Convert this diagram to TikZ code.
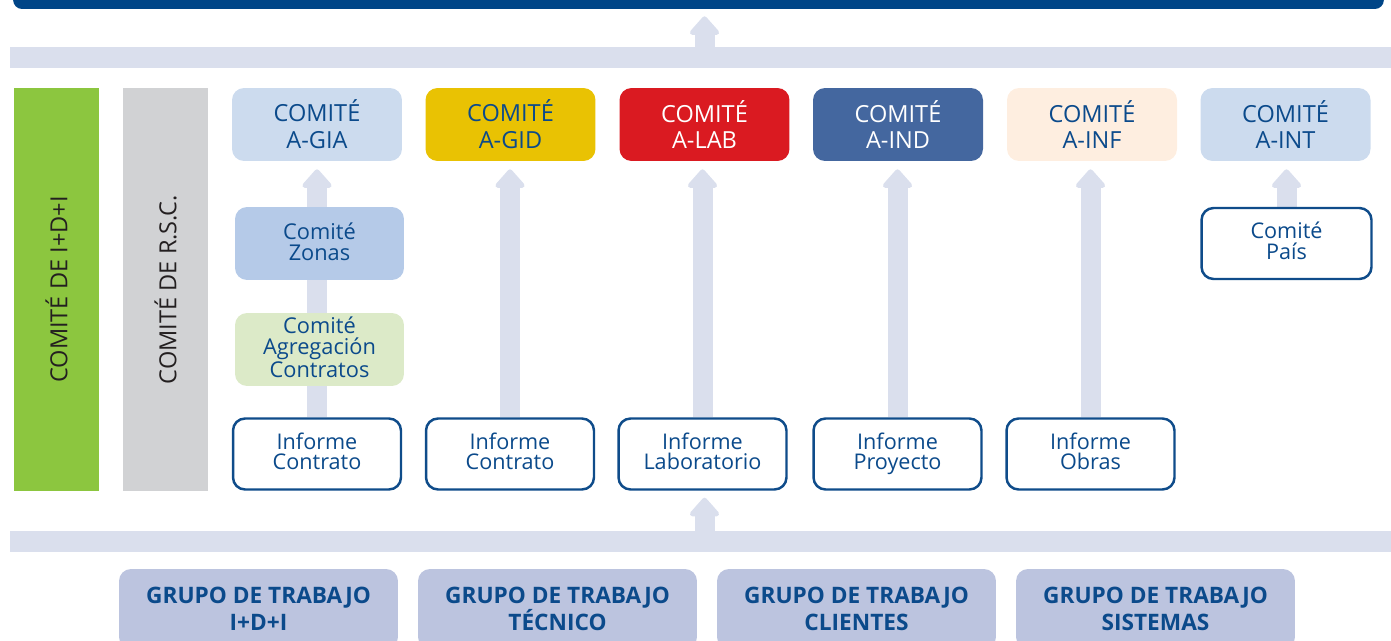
\documentclass[tikz,border=0pt]{standalone}
\usepackage{fontspec}
\setmainfont{Open Sans}
\usetikzlibrary{positioning,calc,backgrounds,arrows.meta}
\definecolor{comitenavy}{HTML}{004587}
\definecolor{comitetext}{HTML}{0B4A8B}
\definecolor{comiteband}{HTML}{DADFED}
\definecolor{informeline}{HTML}{0F4C8A}
\definecolor{giafill}{HTML}{CCDBEE}
\definecolor{gidfill}{HTML}{E9C203}
\definecolor{labfill}{HTML}{DA1A21}
\definecolor{indfill}{HTML}{44679F}
\definecolor{inffill}{HTML}{FEEEE0}
\definecolor{zonafill}{HTML}{B5CAE8}
\definecolor{aggrfill}{HTML}{DCEAC8}
\definecolor{idigreen}{HTML}{8CC63F}
\definecolor{rscgrey}{HTML}{D1D2D4}
\definecolor{sidetext}{HTML}{231F20}
\definecolor{grupofill}{HTML}{BCC4DF}

\begin{document}
\begin{tikzpicture}[
  x=0.02cm, y=-0.02cm,
  comite/.style={rounded corners=0.24cm, minimum width=3.4cm, minimum height=1.46cm,
    inner sep=0pt, align=center, text=comitetext, font=\fontsize{13.4}{15.3}\selectfont},
  informe/.style={draw=informeline, line width=1.4pt, fill=white, rounded corners=0.24cm,
    minimum width=3.36cm, minimum height=1.42cm, inner sep=0pt, align=center,
    text depth=3pt, text=comitetext, font=\fontsize{12.3}{11.6}\selectfont},
  sub/.style={rounded corners=0.24cm, minimum width=3.38cm, minimum height=1.46cm,
    inner sep=0pt, align=center, text depth=2.5pt, text=comitetext,
    font=\fontsize{12.4}{11.8}\selectfont},
  side/.style={rotate=90, minimum width=8.06cm, minimum height=1.7cm, inner sep=0pt,
    text=sidetext, font=\fontsize{13.4}{15}\selectfont},
  band/.style={fill=comiteband, minimum width=27.8cm, minimum height=0.42cm, inner sep=0pt},
  grupo/.style={fill=grupofill, rounded corners=0.24cm, minimum width=5.58cm,
    minimum height=1.6cm, inner sep=0pt, align=center, text=comitetext,
    font=\bfseries\fontsize{12.9}{15.5}\selectfont},
  fatarrow/.style={draw=comiteband, line width=0.4cm,
    -{Triangle[width=0.68cm,length=0.4cm,round]}},
]

% geometry
\def\ytop{124.5}   % committee row
\def\yinf{454}     % report row

\useasboundingbox (0,0) rectangle (1391,641);
\clip (0,0) rectangle (1391,641);

% ============ top bar and bands ============
\node[fill=comitenavy, rounded corners=0.18cm, minimum width=27.42cm, minimum height=0.58cm,
  inner sep=0pt] (topbar) at (698.5,-5.5) {};
\node[band] (topband) at (705,58) {};
\node[band] (botband) at (705,541.5) {};

% ============ side committees ============
\node[side, fill=idigreen] (idi) at (56.5,289.5) {COMITÉ DE I+D+I};
\node[side, fill=rscgrey] (rsc) at (165.5,289.5) {COMITÉ DE R.S.C.};

% ============ committee row ============
\node[comite, fill=giafill] (agia) at (317,\ytop) {COMITÉ\\A-GIA};
\node[comite, fill=gidfill] (agid) at (510.5,\ytop) {COMITÉ\\A-GID};
\node[comite, fill=labfill, text=white] (alab) at (704.5,\ytop) {COMITÉ\\A-LAB};
\node[comite, fill=indfill, text=white] (aind) at (898,\ytop) {COMITÉ\\A-IND};
\node[comite, fill=inffill] (ainf) at (1092,\ytop) {COMITÉ\\A-INF};
\node[comite, fill=giafill] (aint) at (1285.5,\ytop) {COMITÉ\\A-INT};

% intermediate committees
\node[sub, fill=zonafill] (zonas) at (319.5,243.5) {Comité\\Zonas};
\node[sub, fill=aggrfill] (aggr) at (319.5,349.5) {Comité\\Agregación\\Contratos};
\node[informe, minimum width=3.4cm] (pais) at (1286.5,243.5) {Comité\\País};

% ============ report row ============
\node[informe] (inf1) at (317,\yinf) {Informe\\Contrato};
\node[informe] (inf2) at (510,\yinf) {Informe\\Contrato};
\node[informe] (ilab) at (702.5,\yinf) {Informe\\Laboratorio};
\node[informe] (iproj) at (897.5,\yinf) {Informe\\Proyecto};
\node[informe] (iobr) at (1090.5,\yinf) {Informe\\Obras};

% ============ working groups ============
\node[grupo] (gidi) at (258.5,609) {GRUPO DE TRABAJO\\I+D+I};
\node[grupo] (gtec) at (557.5,609) {GRUPO DE TRABAJO\\TÉCNICO};
\node[grupo] (gcli) at (856.5,609) {GRUPO DE TRABAJO\\CLIENTES};
\node[grupo] (gsis) at (1155.5,609) {GRUPO DE TRABAJO\\SISTEMAS};

% ============ arrows (behind the boxes) ============
\begin{scope}[on background layer]
  \draw[fatarrow, shorten >=0.16cm] (inf1.north) -- (inf1.north |- agia.south);
  \draw[fatarrow, shorten >=0.16cm] (inf2.north) -- (inf2.north |- agid.south);
  \draw[fatarrow, shorten >=0.16cm] (ilab.north) -- (ilab.north |- alab.south);
  \draw[fatarrow, shorten >=0.16cm] (iproj.north) -- (iproj.north |- aind.south);
  \draw[fatarrow, shorten >=0.16cm] (iobr.north) -- (iobr.north |- ainf.south);
  \draw[fatarrow, shorten >=0.16cm] (pais.north) -- (pais.north |- aint.south);
  % band arrows
  \draw[fatarrow, shorten >=0.14cm] (topband.north -| alab.south) -- (topbar.south -| alab.south);
  \draw[fatarrow, shorten >=0.14cm] (botband.north -| alab.south) -- (ilab.south -| alab.south);
\end{scope}

\end{tikzpicture}
\end{document}
